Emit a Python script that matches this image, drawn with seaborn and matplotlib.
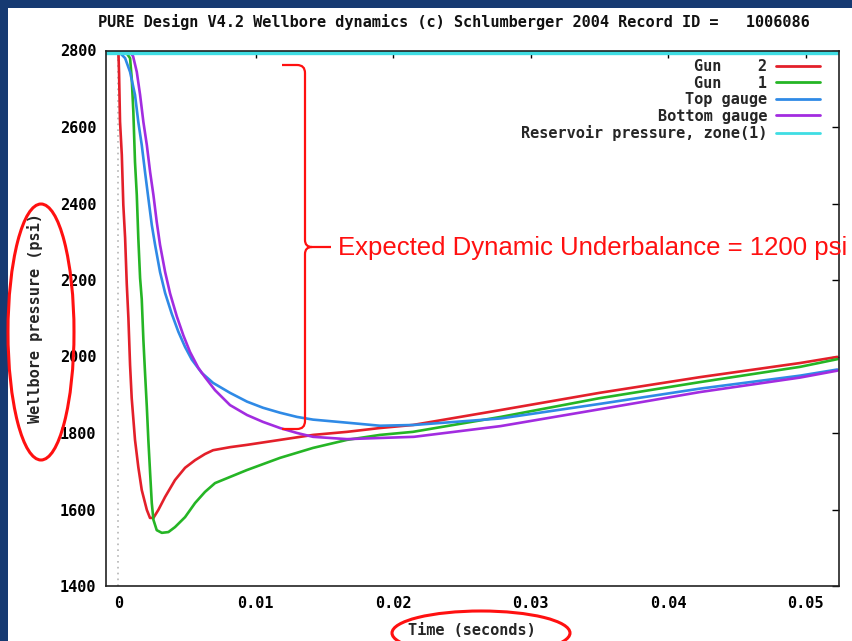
import numpy as np
import pandas as pd
import matplotlib
matplotlib.use("Agg")
import matplotlib.pyplot as plt
import seaborn as sns
from matplotlib.lines import Line2D
from matplotlib.patches import Ellipse, PathPatch, Rectangle
from matplotlib.path import Path

# ---------------- data ----------------
gun2_t = [0.0, 0.00005, 0.00012, 0.00025, 0.00036, 0.00049, 0.00061, 0.00073, 0.00085, 0.00097,
          0.00121, 0.00145, 0.0017, 0.00207, 0.0023, 0.00255, 0.00291, 0.0034, 0.00412, 0.00485,
          0.00558, 0.0063, 0.00689, 0.00813, 0.00936, 0.01176, 0.01416, 0.01663, 0.01903, 0.02143,
          0.0278, 0.035, 0.0423, 0.0496, 0.0523]
gun2_p = [2800, 2740, 2614, 2527, 2396, 2310, 2190, 2100, 1978, 1891,
          1782, 1711, 1651, 1599, 1578, 1578, 1599, 1633, 1677, 1709,
          1729, 1745, 1755, 1763, 1769, 1782, 1795, 1803, 1813, 1821,
          1860, 1905, 1946, 1983, 1999]

gun1_t = [0.0, 0.0005, 0.00085, 0.00097, 0.00109, 0.00121, 0.00134, 0.00145, 0.00158, 0.0017,
          0.00182, 0.00194, 0.00207, 0.00218, 0.00231, 0.00243, 0.00255, 0.00279, 0.00316, 0.00364,
          0.00412, 0.00485, 0.00558, 0.0063, 0.00703, 0.00934, 0.01176, 0.01416, 0.01663, 0.01903,
          0.02143, 0.0278, 0.035, 0.0423, 0.0496, 0.0523]
gun1_p = [2800, 2798, 2780, 2728, 2639, 2508, 2422, 2310, 2205, 2150,
          2043, 1957, 1868, 1782, 1695, 1617, 1573, 1546, 1539, 1541,
          1554, 1580, 1617, 1646, 1669, 1703, 1735, 1761, 1782, 1795,
          1803, 1842, 1891, 1933, 1973, 1993]

top_t = [0.0, 0.00049, 0.00085, 0.00121, 0.00145, 0.0017, 0.00194, 0.00218, 0.00243, 0.00267,
         0.00303, 0.0034, 0.00388, 0.00436, 0.00485, 0.00534, 0.00607, 0.00689, 0.00812, 0.00936,
         0.01052, 0.01176, 0.013, 0.01416, 0.01663, 0.01903, 0.0215, 0.0278, 0.035, 0.0423,
         0.0496, 0.0523]
top_p = [2798, 2780, 2744, 2684, 2613, 2553, 2482, 2414, 2344, 2292,
         2221, 2166, 2112, 2065, 2025, 1992, 1957, 1931, 1905, 1882,
         1866, 1853, 1842, 1835, 1827, 1819, 1821, 1838, 1876, 1916,
         1950, 1966]

bot_t = [0.0, 0.0008, 0.00107, 0.00134, 0.00158, 0.00182, 0.00207, 0.00231, 0.00255, 0.00279,
         0.00303, 0.0034, 0.00376, 0.00425, 0.00473, 0.00521, 0.00582, 0.0063, 0.00703, 0.00812,
         0.00936, 0.01052, 0.01176, 0.013, 0.01416, 0.01663, 0.01903, 0.0215, 0.0278, 0.035,
         0.0423, 0.0496, 0.0523]
bot_p = [2800, 2798, 2785, 2744, 2684, 2613, 2553, 2482, 2422, 2352,
         2292, 2221, 2165, 2105, 2055, 2012, 1970, 1946, 1912, 1873,
         1847, 1829, 1813, 1800, 1790, 1784, 1787, 1790, 1818, 1862,
         1907, 1945, 1963]

res_t = [-0.001, 0.053]
res_p = [2800, 2800]

series_names = ["Gun    2", "Gun    1", "Top gauge", "Bottom gauge", "Reservoir pressure, zone(1)"]
series_colors = ["#e3202a", "#25b525", "#2f8ae6", "#a22ce0", "#3fdde3"]

xticks = [0, 0.01, 0.02, 0.03, 0.04, 0.05]
xticklabels = ["0", "0.01", "0.02", "0.03", "0.04", "0.05"]
yticks = [1400, 1600, 1800, 2000, 2200, 2400, 2600, 2800]

title = "PURE Design V4.2 Wellbore dynamics (c) Schlumberger 2004 Record ID =   1006086"
annot_text = "Expected Dynamic Underbalance = 1200 psi"

# ---------------- figure ----------------
sns.set_theme(style="white")
plt.rcParams["font.family"] = ["DejaVu Sans Mono", "DejaVu Sans"]

W, H = 852, 641
fig = plt.figure(figsize=(W / 100, H / 100), dpi=100, facecolor="#163a72")

bg = fig.add_axes([0, 0, 1, 1], zorder=0)
bg.set_xlim(0, W)
bg.set_ylim(H, 0)
bg.axis("off")
bg.add_patch(Rectangle((8, 8), W, H, facecolor="white", edgecolor="none"))

L, R, T, B = 106, 838.7, 50.5, 586
ax = fig.add_axes([L / W, 1 - B / H, (R - L) / W, (B - T) / H], zorder=1)
ax.set_facecolor("white")

df = pd.concat([
    pd.DataFrame({"t": gun2_t, "p": gun2_p, "series": series_names[0]}),
    pd.DataFrame({"t": gun1_t, "p": gun1_p, "series": series_names[1]}),
    pd.DataFrame({"t": top_t, "p": top_p, "series": series_names[2]}),
    pd.DataFrame({"t": bot_t, "p": bot_p, "series": series_names[3]}),
], ignore_index=True)

ax.axvline(0, color="#b5b5b5", ls=(0, (1, 2.5)), lw=1.2, zorder=0)

sns.lineplot(data=df, x="t", y="p", hue="series", hue_order=series_names[:4],
             palette=series_colors[:4], estimator=None, sort=False, lw=1.9,
             legend=False, ax=ax)
sns.lineplot(x=res_t, y=res_p, color=series_colors[4], lw=6, ax=ax)

ax.set_xlim(-0.0009, 0.0524)
ax.set_ylim(1400, 2800)
ax.set_xticks(xticks)
ax.set_xticklabels(xticklabels)
ax.set_yticks(yticks)
ax.tick_params(direction="in", length=5, width=1, top=True, right=True,
               labelsize=11, pad=7, colors="black")
for lab in ax.get_xticklabels() + ax.get_yticklabels():
    lab.set_fontweight("bold")
for s in ax.spines.values():
    s.set_color("#222222")
    s.set_linewidth(1.2)

ax.set_xlabel("Time (seconds)", fontsize=11, fontweight="bold", labelpad=9)
ax.set_ylabel("Wellbore pressure (psi)", fontsize=11, fontweight="bold", labelpad=12)

handles = [Line2D([], [], color=c, lw=2) for c in series_colors]
ax.legend(handles, series_names, loc="upper right", bbox_to_anchor=(0.9745, 0.984),
          frameon=False, markerfirst=False, handlelength=2.9, handletextpad=0.55,
          labelspacing=0.1, borderpad=0, borderaxespad=0,
          prop={"family": "DejaVu Sans Mono", "weight": "bold", "size": 11})

# ---------------- overlay: title and annotations ----------------
ov = fig.add_axes([0, 0, 1, 1], zorder=5)
ov.set_xlim(0, W)
ov.set_ylim(H, 0)
ov.axis("off")
ov.patch.set_alpha(0)

ov.text(454, 22, title, ha="center", va="center", fontsize=11, fontweight="bold",
        family="DejaVu Sans Mono", color="#111111")

red = "#ff1010"
ov.add_patch(Ellipse((41, 332), 66, 256, fill=False, ec=red, lw=2.2))
ov.add_patch(Ellipse((481, 633), 178, 44, fill=False, ec=red, lw=2.2, clip_on=False))

verts = [(282, 65), (297, 65), (305, 65), (305, 73), (305, 240), (305, 247), (312, 247),
         (305, 247), (305, 254), (305, 421), (305, 429), (297, 429), (282, 429),
         (312, 247), (331, 247)]
codes = [Path.MOVETO, Path.LINETO, Path.CURVE3, Path.CURVE3, Path.LINETO, Path.CURVE3, Path.CURVE3,
         Path.CURVE3, Path.CURVE3, Path.LINETO, Path.CURVE3, Path.CURVE3, Path.LINETO,
         Path.MOVETO, Path.LINETO]
ov.add_patch(PathPatch(Path(verts, codes), fill=False, ec=red, lw=1.6))
ov.text(338, 248, annot_text, color=red, fontsize=18.5, family="Liberation Sans",
        va="center", ha="left", clip_on=False)

fig.savefig("out.png", dpi=100, facecolor=fig.get_facecolor())
